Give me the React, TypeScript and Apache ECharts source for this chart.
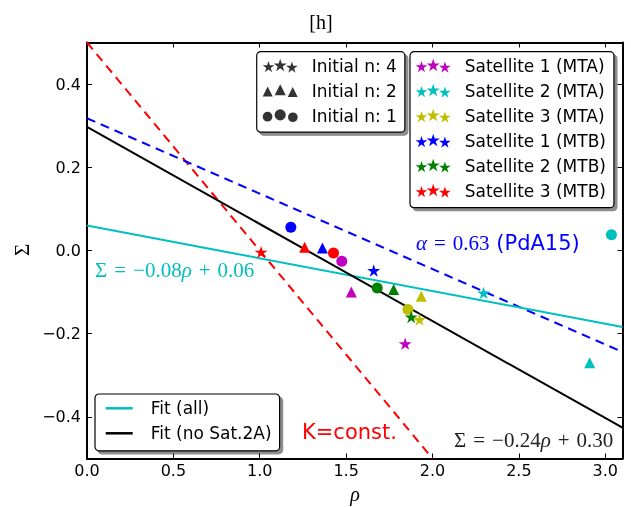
import React, { useEffect, useRef } from 'react';
import * as echarts from 'echarts';

// ---- data ----
const satellites = [
  'Satellite 1 (MTA)',
  'Satellite 2 (MTA)',
  'Satellite 3 (MTA)',
  'Satellite 1 (MTB)',
  'Satellite 2 (MTB)',
  'Satellite 3 (MTB)',
];
const satColors = ['#bf00bf', '#00bfbf', '#bfbf00', '#0000ff', '#008000', '#ff0000'];
// Initial n: 4 (stars)
const rhoN4 = [1.842, 2.296, 1.925, 1.66, 1.877, 1.008];
const sigmaN4 = [-0.224, -0.102, -0.166, -0.048, -0.16, -0.004];
// Initial n: 2 (triangles)
const rhoN2 = [1.53, 2.91, 1.935, 1.363, 1.775, 1.26];
const sigmaN2 = [-0.1, -0.27, -0.11, 0.006, -0.094, 0.008];
// Initial n: 1 (circles)
const rhoN1 = [1.475, 3.036, 1.858, 1.18, 1.68, 1.427];
const sigmaN1 = [-0.026, 0.038, -0.142, 0.056, -0.09, -0.006];
const initialLabels = ['Initial n: 4', 'Initial n: 2', 'Initial n: 1'];
const fitLabels = ['Fit (all)', 'Fit (no Sat.2A)'];
const fitAll = [[0, 0.06], [3.1, -0.184]];
const fitNoSat2A = [[0, 0.297], [3.1, -0.426]];
const pdA15 = [[0, 0.318], [3.1, -0.244]];
const kConst = [[0, 0.5], [2.0, -0.5]];
const xTicks = [0, 0.5, 1.0, 1.5, 2.0, 2.5, 3.0];
const yTicks = [-0.4, -0.2, 0.0, 0.2, 0.4];

// ---- marker shapes ----
function starPath(cx: number, cy: number, R: number) {
  const r = R * 0.381966;
  let d = '';
  for (let i = 0; i < 10; i++) {
    const a = -Math.PI / 2 + (i * Math.PI) / 5;
    const rad = i % 2 ? r : R;
    d += (i ? 'L' : 'M') + (cx + rad * Math.cos(a)).toFixed(2) + ' ' + (cy + rad * Math.sin(a)).toFixed(2) + ' ';
  }
  return d + 'Z ';
}
function triPath(cx: number, cy: number, h: number) {
  return `M${cx} ${cy - h} L${cx + h} ${cy + h} L${cx - h} ${cy + h} Z `;
}
function circPath(cx: number, cy: number, r: number) {
  return `M${cx - r} ${cy} A${r} ${r} 0 1 0 ${cx + r} ${cy} A${r} ${r} 0 1 0 ${cx - r} ${cy} Z `;
}
const starSym = 'path://' + starPath(0, 0, 10);
const starsIcon = 'path://' + starPath(6, 8.3, 6) + starPath(17.5, 6.8, 6.8) + starPath(29, 8.8, 6);
const trisIcon = 'path://' + triPath(5.5, 8.5, 4.8) + triPath(17.5, 6.8, 5.3) + triPath(29.5, 9, 4.8);
const circsIcon = 'path://' + circPath(5.5, 8.5, 4.6) + circPath(17.5, 6.8, 5.3) + circPath(29.5, 9, 4.6);
const groupIcons = [starsIcon, trisIcon, circsIcon];

const fmt = (v: number) => {
  const s = Math.abs(v).toFixed(1);
  return v < -1e-9 ? '\u2212' + s : s;
};

const legendBase = {
  orient: 'vertical' as const,
  align: 'left' as const,
  backgroundColor: '#fff',
  borderColor: '#000',
  borderWidth: 1.2,
  borderRadius: 4,
  shadowColor: 'rgba(0,0,0,0.45)',
  shadowBlur: 1,
  shadowOffsetX: 3,
  shadowOffsetY: 3,
  itemGap: 8,
  selectedMode: false,
  textStyle: {
    fontFamily: 'DejaVu Sans',
    fontSize: 17,
    lineHeight: 17,
    color: '#000',
    padding: [0, 0, 0, 9],
  },
};

const serif = 'Liberation Serif';

export default function App() {
  const ref = useRef<HTMLDivElement>(null);
  useEffect(() => {
    if (!ref.current) return;
    const chart = echarts.init(ref.current, null, { renderer: 'svg' });

    const scatterSeries = satellites.map((name, i) => ({
      type: 'scatter',
      name,
      z: 5,
      silent: true,
      symbolKeepAspect: true,
      itemStyle: { color: satColors[i], opacity: 1 },
      data: [
        { value: [rhoN4[i], sigmaN4[i]], symbol: starSym, symbolSize: 13 },
        { value: [rhoN2[i], sigmaN2[i]], symbol: 'triangle', symbolSize: 11 },
        { value: [rhoN1[i], sigmaN1[i]], symbol: 'circle', symbolSize: 11 },
      ],
    }));
    const dummySeries = initialLabels.map((name) => ({
      type: 'scatter',
      name,
      data: [],
      itemStyle: { color: '#000' },
    }));
    const lineSeries = (name: string, data: number[][], color: string, dashed: boolean) => ({
      type: 'line',
      name,
      data,
      symbol: 'none',
      silent: true,
      z: 3,
      itemStyle: { color },
      lineStyle: { color, width: 2, type: dashed ? [9, 6] : 'solid' },
    });

    const axisCommon = {
      type: 'value',
      axisLine: { show: true, onZero: false, lineStyle: { color: '#000', width: 2 } },
      splitLine: { show: false },
    };
    const labelStyle = { fontFamily: 'DejaVu Sans', fontSize: 16, color: '#000' };

    const sigmaRich = (a: string, b: string, color: string) => ({
      text: `{s|\u03A3}{o|=}{n|\u2212${a}}{i|\u03C1}{o|+}{n|${b}}`,
      fill: color,
      verticalAlign: 'middle',
      rich: {
        s: { fontFamily: serif, fontSize: 21, fill: color },
        o: { fontFamily: serif, fontSize: 21, fill: color, padding: [0, 7] },
        n: { fontFamily: serif, fontSize: 21, fill: color },
        i: { fontFamily: serif, fontSize: 21, fontStyle: 'italic', fill: color },
      },
    });

    chart.setOption({
      animation: false,
      grid: { left: 87, right: 8.5, top: 42.5, bottom: 48.5, containLabel: false },
      xAxis: [
        {
          ...axisCommon,
          position: 'bottom',
          min: 0,
          max: 3.1,
          axisTick: { show: true, inside: true, length: 5, customValues: xTicks, lineStyle: { color: '#000', width: 1 } },
          axisLabel: { ...labelStyle, margin: 4, customValues: xTicks, formatter: (v: number) => fmt(v) },
        },
        {
          ...axisCommon,
          position: 'top',
          min: 0,
          max: 3.1,
          axisTick: { show: true, inside: true, length: 5, customValues: xTicks, lineStyle: { color: '#000', width: 1 } },
          axisLabel: { show: false },
        },
      ],
      yAxis: [
        {
          ...axisCommon,
          position: 'left',
          min: -0.5,
          max: 0.5,
          axisTick: { show: true, inside: true, length: 5, customValues: yTicks, lineStyle: { color: '#000', width: 1 } },
          axisLabel: { ...labelStyle, margin: 6, customValues: yTicks, formatter: (v: number) => fmt(v) },
        },
        {
          ...axisCommon,
          position: 'right',
          min: -0.5,
          max: 0.5,
          axisTick: { show: true, inside: true, length: 5, customValues: yTicks, lineStyle: { color: '#000', width: 1 } },
          axisLabel: { show: false },
        },
      ],
      legend: [
        {
          ...legendBase,
          left: 256.7,
          top: 51.7,
          padding: [5.5, 8, 8, 6],
          itemWidth: 35,
          itemHeight: 14,
          data: initialLabels.map((name, i) => ({ name, icon: groupIcons[i] })),
        },
        {
          ...legendBase,
          left: 410,
          top: 51.7,
          padding: [5.5, 8, 8.5, 5.7],
          itemWidth: 35,
          itemHeight: 14,
          data: satellites.map((name) => ({ name, icon: starsIcon })),
        },
        {
          ...legendBase,
          left: 95,
          top: 394,
          padding: [5.8, 8, 9, 10.7],
          itemWidth: 27,
          itemHeight: 2.5,
          textStyle: { ...legendBase.textStyle, padding: [0, 0, 0, 13] },
          data: fitLabels.map((name) => ({ name, icon: 'rect' })),
        },
      ],
      graphic: [
        {
          type: 'text',
          x: 321,
          y: 22,
          style: { text: '[h]', fontFamily: serif, fontSize: 20, fill: '#000', align: 'center', verticalAlign: 'middle' },
        },
        {
          type: 'text',
          x: 22,
          y: 250,
          rotation: Math.PI / 2,
          style: { text: '\u03A3', fontFamily: serif, fontSize: 21, fill: '#000', align: 'center', verticalAlign: 'middle' },
        },
        {
          type: 'text',
          x: 355,
          y: 494,
          style: { text: '\u03C1', fontFamily: serif, fontStyle: 'italic', fontSize: 20, fill: '#000', align: 'center', verticalAlign: 'middle' },
        },
        { type: 'text', x: 95, y: 270, z: 10, style: sigmaRich('0.08', '0.06', '#00bfbf') },
        { type: 'text', x: 454, y: 440, z: 10, style: sigmaRich('0.24', '0.30', '#222') },
        {
          type: 'text',
          x: 416,
          y: 243,
          z: 10,
          style: {
            text: '{i|\u03B1}{o|=}{n|0.63}{p| (PdA15)}',
            fill: '#0000ff',
            verticalAlign: 'middle',
            rich: {
              i: { fontFamily: serif, fontStyle: 'italic', fontSize: 21, fill: '#0000ff' },
              o: { fontFamily: serif, fontSize: 21, fill: '#0000ff', padding: [0, 7] },
              n: { fontFamily: serif, fontSize: 21, fill: '#0000ff' },
              p: { fontFamily: 'DejaVu Sans', fontSize: 21, fill: '#0000ff' },
            },
          },
        },
        {
          type: 'text',
          x: 302,
          y: 432,
          z: 10,
          style: { text: 'K=const.', fontFamily: 'DejaVu Sans', fontSize: 21, fill: '#ff0000', verticalAlign: 'middle' },
        },
      ],
      series: [
        lineSeries('K=const.', kConst, '#ff0000', true),
        lineSeries('PdA15', pdA15, '#0000ff', true),
        lineSeries(fitLabels[0], fitAll, '#00bfbf', false),
        lineSeries(fitLabels[1], fitNoSat2A, '#000000', false),
        ...dummySeries,
        ...scatterSeries,
      ],
    });
    return () => chart.dispose();
  }, []);
  return <div ref={ref} style={{ position: 'fixed', left: 0, top: 0, width: 631, height: 507 }} />;
}
